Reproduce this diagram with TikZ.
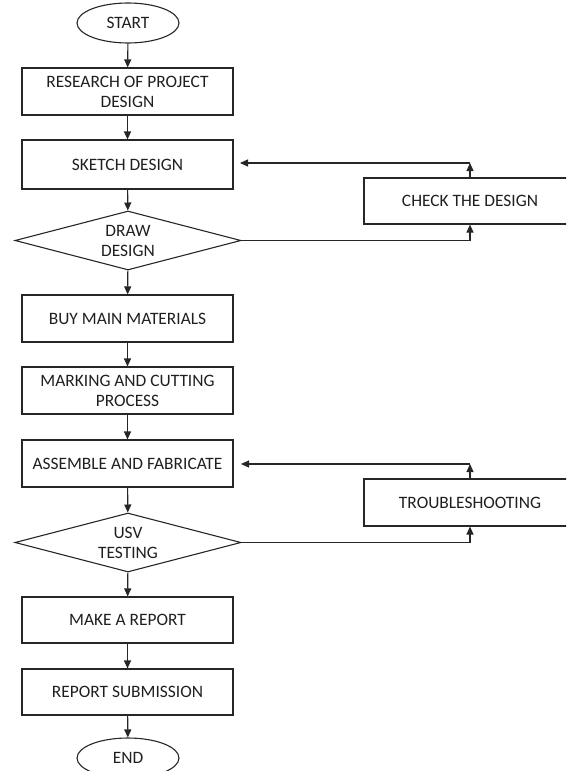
\documentclass[tikz,border=0pt]{standalone}
\usepackage{fontspec}
\setmainfont{Carlito}
\usetikzlibrary{shapes.geometric,arrows.meta}
\begin{document}
\begin{tikzpicture}[x=1pt,y=-1pt,
  every node/.style={font=\fontsize{17.4}{20}\selectfont, text=black!88, align=center, line width=1.1pt, draw=black!85},
  procbox/.style={rectangle, minimum width=211pt, minimum height=47pt, inner sep=0pt},
  termin/.style={ellipse, minimum width=102pt, minimum height=40pt, inner sep=0pt},
  decis/.style={diamond, minimum width=226pt, minimum height=59pt, inner sep=0pt, shape aspect=3.8},
  sidebox/.style={rectangle, minimum width=212pt, minimum height=47pt, inner sep=0pt},
  flow/.style={line width=1.1pt, draw=black!85, -{Triangle[length=8pt,width=7pt]}},
  plain/.style={line width=1.1pt, draw=black!85}]
\useasboundingbox (0,0) rectangle (566,771);
\clip (0,0) rectangle (566,771);
\node[termin] (start) at (128,23) {START};
\node[procbox] (research) at (127.5,91.5) {RESEARCH OF PROJECT\\DESIGN};
\node[procbox, minimum height=49pt] (sketch) at (127.5,164.5) {SKETCH DESIGN};
\node[decis] (draw) at (128,240.5) {DRAW\\DESIGN};
\node[procbox] (buy) at (127.5,318.5) {BUY MAIN MATERIALS};
\node[procbox] (mark) at (127.5,390.5) {MARKING AND CUTTING\\PROCESS};
\node[procbox] (assemble) at (127.5,463.5) {ASSEMBLE AND FABRICATE};
\node[decis] (usv) at (128,542.5) {USV\\TESTING};
\node[procbox, minimum height=46pt] (report) at (127.5,620) {MAKE A REPORT};
\node[procbox, minimum height=46pt] (submit) at (127.5,692) {REPORT SUBMISSION};
\node[termin] (end) at (128,758) {END};
\node[sidebox, minimum height=46pt] (check) at (470,201) {CHECK THE DESIGN};
\node[sidebox] (trouble) at (470,502.5) {TROUBLESHOOTING};

\draw[flow] (start) -- (research);
\draw[flow] (research) -- (sketch);
\draw[flow] (sketch) -- (draw);
\draw[flow] (draw) -- (buy);
\draw[flow] (buy) -- (mark);
\draw[flow] (mark) -- (assemble);
\draw[flow] (assemble) -- (usv);
\draw[flow] (usv) -- (report);
\draw[flow] (report) -- (submit);
\draw[flow] (submit) -- (end);

\coordinate (c1) at (470,163);
\coordinate (c1t) at (240,163);
\coordinate (c2) at (470,240.5);
\draw[flow] (check.north) -- (c1);
\draw[flow] (c1) -- (c1t);
\draw[plain] (draw.east) -- (c2);
\draw[flow] (c2) -- (check.south);

\coordinate (t1) at (470,464);
\coordinate (t1t) at (241,464);
\coordinate (t2) at (470,542.5);
\draw[flow] (trouble.north) -- (t1);
\draw[flow] (t1) -- (t1t);
\draw[plain] (usv.east) -- (t2);
\draw[flow] (t2) -- (trouble.south);
\end{tikzpicture}
\end{document}
